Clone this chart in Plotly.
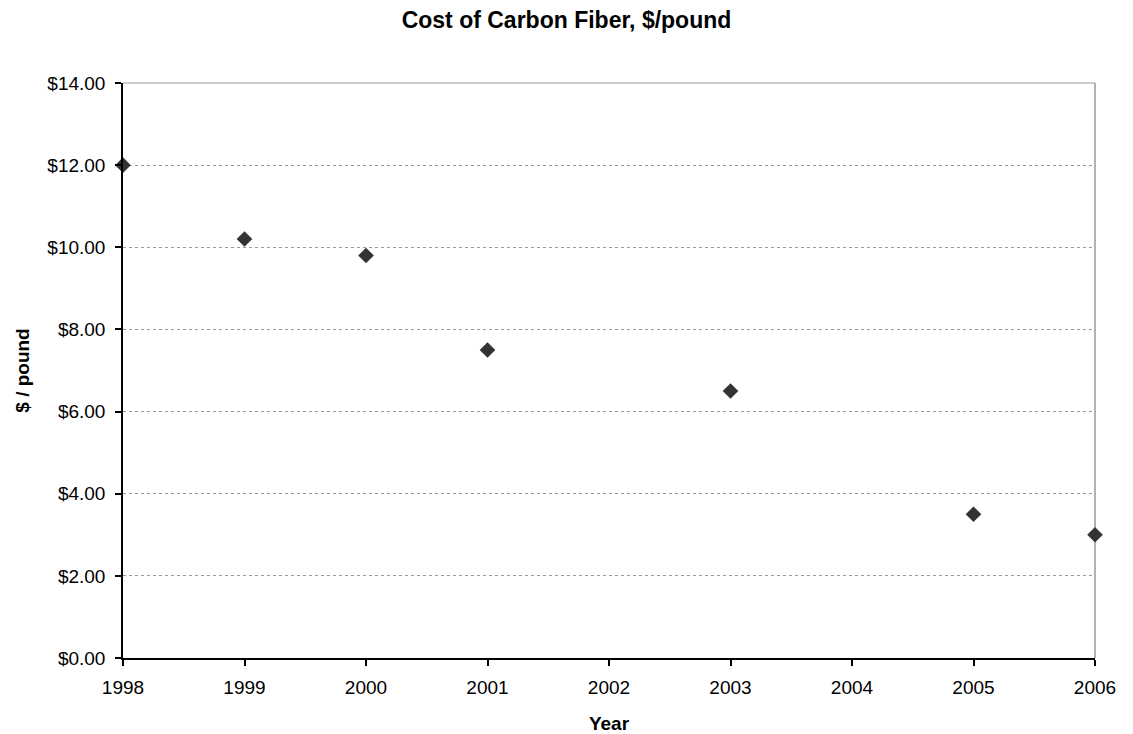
import plotly.graph_objects as go

# Carbon fiber price by year
years = [1998, 1999, 2000, 2001, 2003, 2005, 2006]
cost = [12.0, 10.2, 9.8, 7.5, 6.5, 3.5, 3.0]

y_ticks = [0, 2, 4, 6, 8, 10, 12, 14]
y_tick_labels = ["$%.2f" % v for v in y_ticks]
x_ticks = list(range(1998, 2007))

fig = go.Figure()
fig.add_trace(go.Scatter(
    x=years, y=cost, mode="markers",
    marker=dict(symbol="diamond", size=12, color="#333333"),
    cliponaxis=False, showlegend=False,
))

font_family = "Liberation Sans, Arial, sans-serif"

fig.update_layout(
    width=1133, height=734,
    margin=dict(l=123, r=38, t=83, b=76),
    paper_bgcolor="white", plot_bgcolor="white",
    font=dict(family=font_family, size=19, color="black"),
    title=dict(text="<b>Cost of Carbon Fiber, $/pound</b>", x=0.5, xref="container",
               xanchor="center", y=1 - 20 / 734, yanchor="middle",
               font=dict(size=23, color="black")),
    xaxis=dict(
        range=[1998, 2006], tickvals=x_ticks, ticktext=[str(t) for t in x_ticks],
        showgrid=False, zeroline=False, automargin=False,
        showline=True, linecolor="black", linewidth=1.5,
        ticks="outside", ticklen=6, tickcolor="black", tickwidth=1.5,
        tickfont=dict(size=19), ticklabelstandoff=5,
        title=dict(text="<b>Year</b>", font=dict(size=19), standoff=20),
    ),
    yaxis=dict(
        range=[0, 14], tickvals=y_ticks, ticktext=y_tick_labels,
        showgrid=True, gridcolor="#999999", griddash="dot", gridwidth=1,
        zeroline=False, automargin=False,
        showline=True, linecolor="black", linewidth=1.5,
        ticks="outside", ticklen=6, tickcolor="black", tickwidth=1.5,
        tickfont=dict(size=19), ticklabelstandoff=6,
        title=dict(text="<b>$ / pound</b>", font=dict(size=19), standoff=13),
    ),
    shapes=[
        dict(type="line", xref="paper", yref="paper", x0=1, x1=1, y0=0, y1=1,
             line=dict(color="#999999", width=1.5), layer="below"),
        dict(type="line", xref="paper", yref="paper", x0=0, x1=1, y0=1, y1=1,
             line=dict(color="#999999", width=1), layer="below"),
    ],
)

fig.write_html("out.html")
